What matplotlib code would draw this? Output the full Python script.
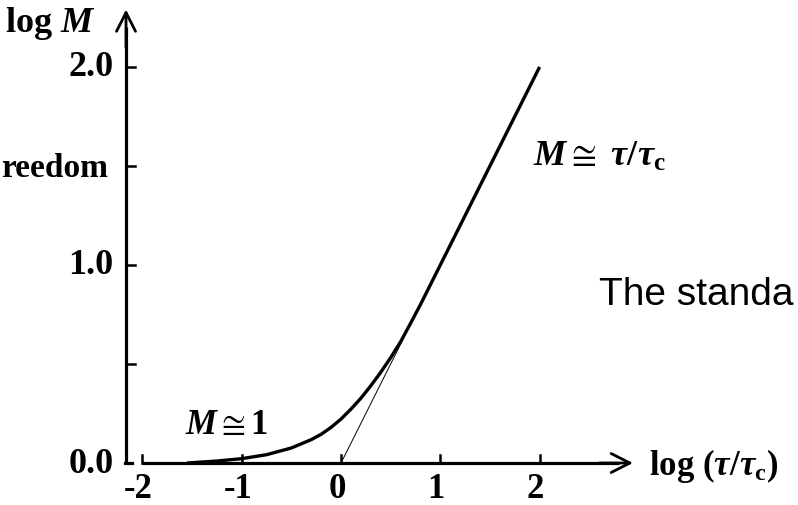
import matplotlib
matplotlib.use("Agg")
import matplotlib.pyplot as plt

plt.rcParams['mathtext.fontset'] = 'custom'
plt.rcParams['mathtext.rm'] = 'Liberation Serif:bold'
plt.rcParams['mathtext.bf'] = 'Liberation Serif:bold'
plt.rcParams['mathtext.it'] = 'Liberation Serif:italic:bold'
plt.rcParams['mathtext.fallback'] = 'stix'

# curve: log M against log(tau/tau_c)
log_tau = [-1.55, -1.25, -1.0, -0.75, -0.5, -0.3, -0.2, -0.1, 0.0, 0.1, 0.2,
           0.3, 0.4, 0.5, 0.6, 0.7, 0.8, 0.9, 1.0, 1.5, 2.0]
log_m = [0.0, 0.01, 0.022, 0.042, 0.076, 0.118, 0.145, 0.18, 0.222, 0.272,
         0.327, 0.39, 0.458, 0.532, 0.612, 0.705, 0.80, 0.90, 1.0, 1.5, 2.0]

# asymptote M = tau/tau_c, drawn thin from the origin
asym_x = [0.0, 0.63]
asym_y = [0.0, 0.63]

xticks = [-2, -1, 0, 1, 2]
xtick_labels = ['-2', '-1', '0', '1', '2']
yticks = [0.5, 1.0, 1.5, 2.0]
ylabels_at = [0.0, 1.0, 2.0]
ylabels = ['0.0', '1.0', '2.0']

fig = plt.figure(figsize=(7.98, 5.05), dpi=100)
ax = fig.add_axes([0, 0, 1, 1])
ax.set_xlim(-3.434, 4.602)
ax.set_ylim(-0.212, 2.338)
ax.axis('off')

serif = 'Liberation Serif'
yax = -2.165
arrow = dict(arrowstyle='->,head_length=0.75,head_width=0.38', lw=2.0,
             color='black', mutation_scale=18, shrinkA=0, shrinkB=0)

# hand drawn axes
ax.plot([yax, yax], [0, 2.2], color='black', lw=2.3, solid_capstyle='butt')
ax.plot([yax - 0.01, yax + 0.06], [0, 0], color='black', lw=2.3)
ax.annotate('', xy=(yax, 2.29), xytext=(yax, 2.1), arrowprops=arrow)
ax.plot([-2.0, 2.8], [0, 0], color='black', lw=2.3, solid_capstyle='butt')
ax.annotate('', xy=(2.94, 0), xytext=(2.6, 0), arrowprops=arrow)

for t in yticks:
    ax.plot([yax, yax + 0.09], [t, t], color='black', lw=1.8)
for t in xticks:
    ax.plot([t, t], [0, 0.04], color='black', lw=1.8)

for t, s in zip(xticks, xtick_labels):
    ax.text(t - 0.04, -0.135, s, ha='center', va='center', family=serif,
            fontweight='bold', fontsize=25)
for t, s in zip(ylabels_at, ylabels):
    ax.text(-2.29, t - 0.005, s, ha='right', va='center', family=serif,
            fontweight='bold', fontsize=26)

# data
ax.plot(log_tau, log_m, color='black', lw=2.4, solid_capstyle='butt')
ax.plot(asym_x, asym_y, color='black', lw=0.7)

# labels
ax.text(-2.47, 2.22, r'$\mathrm{log}\ M$', ha='right', va='center', fontsize=26)
ax.text(-2.35, 1.485, 'reedom', ha='right', va='center', family=serif,
        fontweight='bold', fontsize=24)
ax.text(3.1, -0.015, r'$\mathrm{log}\ (\tau/\tau_{\mathrm{c}})$', ha='left',
        va='center', fontsize=25)
ax.text(1.93, 1.55, r'$M \cong\ \tau/\tau_{\mathrm{c}}$', ha='left',
        va='center', fontsize=26)
ax.text(-1.57, 0.195, r'$M\cong \mathrm{1}$', ha='left', va='center',
        fontsize=25)
ax.text(2.6, 0.85, 'The standa', ha='left', va='center',
        family='Liberation Sans', fontsize=28)

fig.savefig('out.png', dpi=100)
